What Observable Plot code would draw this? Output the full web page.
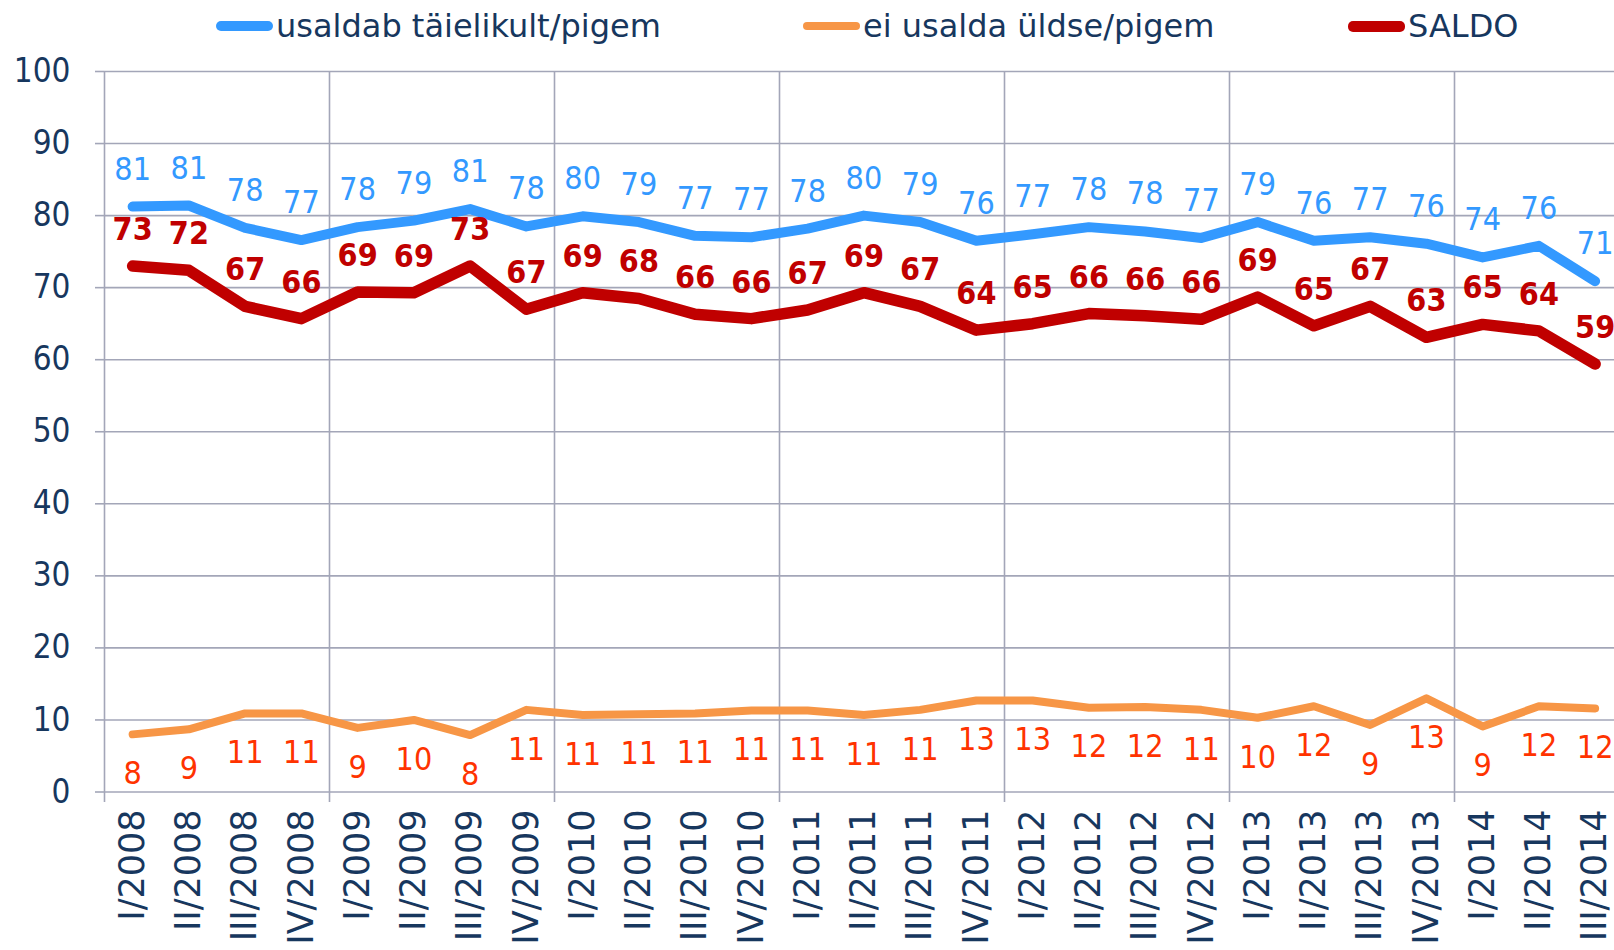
<!DOCTYPE html>
<html><head><meta charset="utf-8">
<script src="https://cdn.jsdelivr.net/npm/d3@7"></script>
<script src="https://cdn.jsdelivr.net/npm/@observablehq/plot@0.6"></script>
<style>
html,body{margin:0;padding:0;background:#fff;overflow:hidden;}
#wrap{position:relative;width:1614px;height:950px;overflow:hidden;background:#fff;}
#chart{position:absolute;top:0;left:0;}
#chart svg{overflow:hidden;}
#legend{position:absolute;top:0;left:0;width:1614px;height:52px;font-family:"DejaVu Sans",sans-serif;font-stretch:normal;font-size:32px;color:#17375e;}
.item{position:absolute;top:6px;height:40px;display:flex;align-items:center;white-space:nowrap;}
.sw{display:inline-block;width:57px;height:9px;border-radius:5px;margin-right:3px;}
</style></head><body>
<div id="wrap"><div id="chart"></div><div id="legend"></div></div>
<script>
// ---- data ----
const categories = ["I/2008","II/2008","III/2008","IV/2008","I/2009","II/2009","III/2009","IV/2009",
  "I/2010","II/2010","III/2010","IV/2010","I/2011","II/2011","III/2011","IV/2011",
  "I/2012","II/2012","III/2012","IV/2012","I/2013","II/2013","III/2013","IV/2013",
  "I/2014","II/2014","III/2014"];
const seriesNames = ["usaldab täielikult/pigem", "ei usalda üldse/pigem", "SALDO"];
// line values (as drawn)
const trustValues    = [81.25,81.4,78.3,76.6,78.4,79.3,80.9,78.5,79.9,79.1,77.2,77.0,78.2,80.0,79.1,76.5,77.4,78.4,77.8,76.9,79.1,76.5,77.0,76.1,74.2,75.8,70.9];
const distrustValues = [8.0,8.7,10.9,10.9,8.9,10.0,7.9,11.4,10.7,10.8,10.9,11.3,11.3,10.7,11.4,12.7,12.7,11.7,11.8,11.4,10.3,11.9,9.3,13.0,9.1,11.9,11.6];
const saldoValues    = [73.0,72.4,67.4,65.7,69.4,69.3,73.0,67.0,69.3,68.5,66.3,65.7,66.9,69.3,67.4,64.1,65.0,66.4,66.1,65.6,68.7,64.7,67.4,63.1,64.9,64.0,59.4];
// data labels (as printed)
const trustLabels    = [81,81,78,77,78,79,81,78,80,79,77,77,78,80,79,76,77,78,78,77,79,76,77,76,74,76,71];
const distrustLabels = [8,9,11,11,9,10,8,11,11,11,11,11,11,11,11,13,13,12,12,11,10,12,9,13,9,12,12];
const saldoLabels    = [73,72,67,66,69,69,73,67,69,68,66,66,67,69,67,64,65,66,66,66,69,65,67,63,65,64,59];
const yTicks = [0,10,20,30,40,50,60,70,80,90,100];

// ---- styles / layout ----
const W = 1614, H = 950;
const left = 104, band = 56.25, yBottom = 791.5, yTop = 71, frameBottom = 802;
const cBlue = "#3399ff", cOrange = "#f79646", cRed = "#c00000", cOrangeText = "#ff3300";
const navy = "#17375e", grid = "#a3a6b8";
const font = "'DejaVu Sans Condensed','DejaVu Sans',sans-serif";

const rows = categories.map((c, i) => ({
  i, c,
  trust: trustValues[i], distrust: distrustValues[i], saldo: saldoValues[i],
  tl: trustLabels[i], dl: distrustLabels[i], sl: saldoLabels[i]
}));
const idx = categories.map((c, i) => i);
const yearBounds = idx.filter(i => categories[i].startsWith("I/")).map(i => i - 0.5);

const chart = Plot.plot({
  width: W, height: H,
  marginLeft: left, marginRight: 0, marginTop: yTop, marginBottom: H - frameBottom,
  style: {fontFamily: font, fontStretch: "condensed", background: "transparent", overflow: "hidden"},
  x: {type: "linear", domain: [-0.5, categories.length - 0.5], range: [left, left + band * categories.length]},
  y: {domain: [0, 100], range: [yBottom, yTop]},
  marks: [
    Plot.gridY(yTicks, {stroke: grid, strokeOpacity: 1, strokeWidth: 1.6}),
    Plot.ruleX(yearBounds, {stroke: grid, strokeWidth: 1.6}),
    Plot.axisY(yTicks, {tickSize: 9, tickPadding: 25, fontSize: 33, stroke: grid, strokeWidth: 1.6, fill: navy, label: null}),
    Plot.axisX(idx, {tickFormat: i => categories[i], tickRotate: -90, tickSize: 0, tickPadding: 7, fontSize: 35, fill: navy, label: null}),
    Plot.line(rows, {x: "i", y: "trust", stroke: cBlue, strokeWidth: 10, strokeLinecap: "round", strokeLinejoin: "round"}),
    Plot.line(rows, {x: "i", y: "distrust", stroke: cOrange, strokeWidth: 8, strokeLinecap: "round", strokeLinejoin: "round"}),
    Plot.line(rows, {x: "i", y: "saldo", stroke: cRed, strokeWidth: 11.5, strokeLinecap: "round", strokeLinejoin: "round"}),
    Plot.text(rows, {x: "i", y: "trust", text: "tl", lineAnchor: "bottom", dy: -27, fill: cBlue, fontSize: 32}),
    Plot.text(rows, {x: "i", y: "saldo", text: "sl", lineAnchor: "bottom", dy: -26, fill: cRed, fontSize: 32, fontWeight: "bold"}),
    Plot.text(rows, {x: "i", y: "distrust", text: "dl", lineAnchor: "top", dy: 27, fill: cOrangeText, fontSize: 32})
  ]
});
// x tick labels use the regular (non-condensed) face
chart.querySelectorAll('g[aria-label="x-axis tick label"]').forEach(g => {
  g.style.fontFamily = "'DejaVu Sans',sans-serif";
  g.style.fontStretch = "normal";
});
document.getElementById("chart").appendChild(chart);

// ---- legend ----
const legendItems = [
  {name: seriesNames[0], color: cBlue, h: 10, left: 216},
  {name: seriesNames[1], color: cOrange, h: 8, left: 803},
  {name: seriesNames[2], color: cRed, h: 11, left: 1348}
];
const lg = document.getElementById("legend");
legendItems.forEach(d => {
  const it = document.createElement("div");
  it.className = "item";
  it.style.left = d.left + "px";
  const sw = document.createElement("span");
  sw.className = "sw";
  sw.style.background = d.color;
  sw.style.height = d.h + "px";
  const t = document.createElement("span");
  t.textContent = d.name;
  it.appendChild(sw); it.appendChild(t);
  lg.appendChild(it);
});
</script>
</body></html>
